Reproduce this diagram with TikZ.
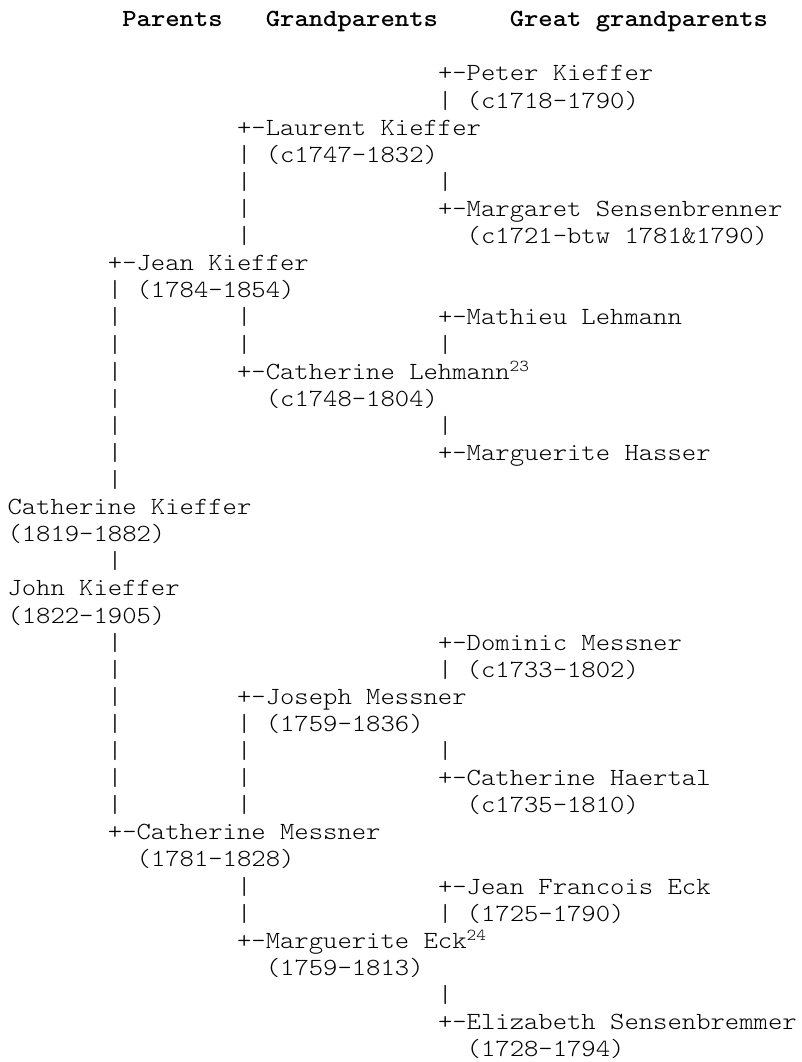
\documentclass[tikz,border=0pt]{standalone}
\usepackage{fontspec}
\usepackage{graphicx}
\newfontfamily\monofont{lmmonolt10}[Extension=.otf, UprightFont=*-regular, BoldFont=*-bold]
\tikzset{
  tt/.style={font=\monofont\fontsize{18.5}{21.5}\selectfont, inner sep=0pt, outer sep=0pt, anchor=base west, text=black},
  hd/.style={tt, font=\monofont\bfseries\fontsize{18.5}{21.5}\selectfont}
}
% \seg{column}{row}{text}
\newcommand\seg[3]{\node[tt] (r#2c#1) at ({7.5+#1*14.35},{81+#2*27.1}) {\scalebox{1.108}[1]{#3}};}
\newcommand\supnum[1]{\raisebox{0.3em}{\fontsize{12.5}{12.5}\selectfont #1}}
\begin{document}
\begin{tikzpicture}[x=0.75pt,y=-0.75pt]
\fill[white] (0,0) rectangle (801,1062);
\useasboundingbox (0,0) rectangle (801,1062);
% header
\node[hd] (hpar) at ({7.5+8*14.35},{81-2*27.1}) {\scalebox{1.108}[1]{Parents}};
\node[hd] (hgra) at ({7.5+18*14.35},{81-2*27.1}) {\scalebox{1.108}[1]{Grandparents}};
\node[hd] (hgre) at ({7.5+35*14.35},{81-2*27.1}) {\scalebox{1.108}[1]{Great grandparents}};
% tree
\seg{30}{0}{+-Peter Kieffer}
\seg{30}{1}{| (c1718-1790)}
\seg{16}{2}{+-Laurent Kieffer}
\seg{16}{3}{| (c1747-1832)}
\seg{16}{4}{|}\seg{30}{4}{|}
\seg{16}{5}{|}\seg{30}{5}{+-Margaret Sensenbrenner}
\seg{16}{6}{|}\seg{32}{6}{(c1721-btw 1781\&1790)}
\seg{7}{7}{+-Jean Kieffer}
\seg{7}{8}{| (1784-1854)}
\seg{7}{9}{|}\seg{16}{9}{|}\seg{30}{9}{+-Mathieu Lehmann}
\seg{7}{10}{|}\seg{16}{10}{|}\seg{30}{10}{|}
\seg{7}{11}{|}\seg{16}{11}{+-Catherine Lehmann\supnum{23}}
\seg{7}{12}{|}\seg{18}{12}{(c1748-1804)}
\seg{7}{13}{|}\seg{30}{13}{|}
\seg{7}{14}{|}\seg{30}{14}{+-Marguerite Hasser}
\seg{7}{15}{|}
\seg{0}{16}{Catherine Kieffer}
\seg{0}{17}{(1819-1882)}
\seg{7}{18}{|}
\seg{0}{19}{John Kieffer}
\seg{0}{20}{(1822-1905)}
\seg{7}{21}{|}\seg{30}{21}{+-Dominic Messner}
\seg{7}{22}{|}\seg{30}{22}{| (c1733-1802)}
\seg{7}{23}{|}\seg{16}{23}{+-Joseph Messner}
\seg{7}{24}{|}\seg{16}{24}{| (1759-1836)}
\seg{7}{25}{|}\seg{16}{25}{|}\seg{30}{25}{|}
\seg{7}{26}{|}\seg{16}{26}{|}\seg{30}{26}{+-Catherine Haertal}
\seg{7}{27}{|}\seg{16}{27}{|}\seg{32}{27}{(c1735-1810)}
\seg{7}{28}{+-Catherine Messner}
\seg{9}{29}{(1781-1828)}
\seg{16}{30}{|}\seg{30}{30}{+-Jean Francois Eck}
\seg{16}{31}{|}\seg{30}{31}{| (1725-1790)}
\seg{16}{32}{+-Marguerite Eck\supnum{24}}
\seg{18}{33}{(1759-1813)}
\seg{30}{34}{|}
\seg{30}{35}{+-Elizabeth Sensenbremmer}
\seg{32}{36}{(1728-1794)}
\end{tikzpicture}
\end{document}
